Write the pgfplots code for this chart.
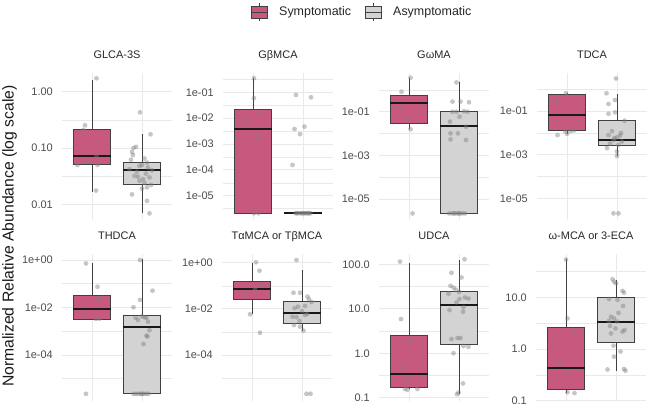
\documentclass[border=0pt]{standalone}
\usepackage{fontspec}
\setmainfont{Liberation Sans}
\usepackage{pgfplots}
\pgfplotsset{compat=1.18}
\definecolor{sym}{RGB}{199,89,126}
\definecolor{asym}{RGB}{211,211,211}
\definecolor{gridc}{RGB}{233,233,233}
\definecolor{boxline}{RGB}{64,64,64}
\definecolor{ticktxt}{RGB}{77,77,77}
\pgfplotsset{
  facet/.style={
    scale only axis, width=110bp, height=147bp,
    xmin=0.4, xmax=2.6,
    axis line style={draw=none},
    xtick={1,2}, xticklabels={,,},
    tick style={draw=none},
    xmajorgrids, ymajorgrids, yminorgrids,
    major grid style={draw=gridc, line width=0.9bp},
    minor grid style={draw=gridc, line width=0.5bp},
    yticklabel style={font=\fontsize{11}{13}\selectfont, text=ticktxt, inner sep=0pt, xshift=-9bp},
    title style={at={(0.5,1)}, anchor=base, yshift=8.5bp, font=\fontsize{11}{13}\selectfont, text=black!85},
  },
  pts/.style={only marks, mark=*, mark size=2.4bp, color=gray, mark options={line width=0pt, draw opacity=0, fill opacity=0.45}, forget plot},
}
% box: left, centre, right, fill, lower whisker, q1, median, q3, upper whisker
\newcommand{\bx}[9]{%
  \addplot[draw=boxline, line width=0.8bp, forget plot] coordinates {(#2,#5) (#2,#6)};
  \addplot[draw=boxline, line width=0.8bp, forget plot] coordinates {(#2,#8) (#2,#9)};
  \addplot[fill=#4, draw=boxline, line width=0.8bp, forget plot] coordinates {(#1,#6) (#3,#6) (#3,#8) (#1,#8)} --cycle;
  \addplot[draw=black!90, line width=2bp, forget plot] coordinates {(#1,#7) (#3,#7)};
}
\newcommand{\sbx}[5]{\bx{0.625}{1}{1.375}{sym}{#1}{#2}{#3}{#4}{#5}}
\newcommand{\abx}[5]{\bx{1.625}{2}{2.375}{asym}{#1}{#2}{#3}{#4}{#5}}
\begin{document}
\begin{tikzpicture}
\useasboundingbox (0bp,0bp) rectangle (650bp,411bp);
\node[rotate=90, inner sep=0pt, font=\fontsize{15.8}{18}\selectfont, text=black!90] at (9.5bp,175bp) {Normalized Relative Abundance (log scale)};

% ---- Legend (pixel coordinates, y measured from the top)
\begin{axis}[at={(0bp,379bp)}, anchor=south west, scale only axis, width=650bp, height=32bp,
  xmin=0, xmax=650, ymin=0, ymax=32, y dir=reverse, hide axis, clip=false]
\addplot[draw=boxline, line width=0.6bp] coordinates {(259,3.5) (259,21.5)};
\addplot[fill=sym, draw=boxline, line width=0.6bp] coordinates {(251,6.8) (267,6.8) (267,18.2) (251,18.2)} --cycle;
\addplot[draw=boxline, line width=0.8bp] coordinates {(251,12.5) (267,12.5)};
\addplot[draw=boxline, line width=0.6bp] coordinates {(373,3.5) (373,21.5)};
\addplot[fill=asym, draw=boxline, line width=0.6bp] coordinates {(365,6.8) (381,6.8) (381,18.2) (365,18.2)} --cycle;
\addplot[draw=boxline, line width=0.8bp] coordinates {(365,12.5) (381,12.5)};
\node[anchor=west, inner sep=0pt, font=\fontsize{12.5}{14}\selectfont, text=black!85] at (axis cs:279,12.5) {Symptomatic};
\node[anchor=west, inner sep=0pt, font=\fontsize{12.5}{14}\selectfont, text=black!85] at (axis cs:393,12.5) {Asymptomatic};
\end{axis}

% ---- Panel 1: GLCA-3S
\begin{axis}[facet, ymode=log, at={(62bp,191bp)}, anchor=south west, title={GLCA-3S},
  ymin=0.00526, ymax=2.148,
  ytick={0.01,0.1,1}, yticklabels={0.01,0.10,1.00}, minor ytick={0.0316,0.316}]
\sbx{0.0168}{0.052}{0.072}{0.217}{1.61}
\abx{0.0071}{0.0223}{0.040}{0.0564}{0.175}
\addplot[pts] coordinates {(1.09,1.73) (0.86,0.253) (0.83,0.209) (1.09,0.072) (0.91,0.057) (0.71,0.050) (1.11,0.050) (1.08,0.0175)};
\addplot[pts] coordinates {(1.96,0.43) (2.17,0.175) (1.83,0.10) (1.88,0.105) (1.80,0.085) (1.82,0.075) (1.78,0.062) (2.05,0.065) (2.10,0.055) (2.00,0.050) (1.95,0.048) (2.12,0.045) (1.75,0.042) (2.20,0.040) (1.90,0.038) (2.08,0.035) (1.85,0.032) (2.15,0.030) (2.02,0.028) (1.95,0.026) (2.18,0.022) (2.10,0.020) (1.80,0.015) (2.00,0.019) (2.10,0.0115) (2.15,0.0069) (1.92,0.031) (2.05,0.024)};
\end{axis}

% ---- Panel 2: GbMCA
\begin{axis}[facet, ymode=log, at={(223bp,191bp)}, anchor=south west, title={GβMCA},
  ymin=1.148e-6, ymax=0.558,
  ytick={1e-5,1e-4,1e-3,1e-2,1e-1}, yticklabels={1e-05,1e-04,1e-03,1e-02,1e-01},
  minor ytick={3.16e-6,3.16e-5,3.16e-4,3.16e-3,3.16e-2,0.316}]
\sbx{2.1e-6}{2.1e-6}{0.0037}{0.022}{0.35}
\abx{2.1e-6}{2.1e-6}{2.1e-6}{2.1e-6}{2.1e-6}
\addplot[pts] coordinates {(1.02,0.35) (1.02,0.059) (1.14,0.0168) (0.86,0.0079) (1.09,0.00175) (1.02,2.1e-6) (1.11,2.1e-6)};
\addplot[pts] coordinates {(1.86,0.079) (2.16,0.064) (2.03,0.0047) (1.83,0.0038) (1.94,0.0024) (1.79,0.000155) (1.85,2.1e-6) (1.90,2.1e-6) (1.95,2.1e-6) (2.00,2.1e-6) (2.05,2.1e-6) (2.10,2.1e-6) (2.15,2.1e-6) (1.88,2.1e-6) (2.02,2.1e-6) (2.12,2.1e-6) (1.97,2.1e-6) (2.08,2.1e-6)};
\end{axis}

% ---- Panel 3: GwMA
\begin{axis}[facet, ymode=log, at={(379bp,191bp)}, anchor=south west, title={GωMA},
  ymin=1.096e-6, ymax=5.93,
  ytick={1e-5,1e-3,1e-1}, yticklabels={1e-05,1e-03,1e-01}, minor ytick={1e-4,1e-2,1}]
\sbx{0.0156}{0.0294}{0.243}{0.58}{3.6}
\abx{2.2e-6}{2.2e-6}{0.0221}{0.1}{2.2}
\addplot[pts] coordinates {(1.03,3.6) (0.85,0.82) (0.82,0.17) (0.95,0.042) (1.03,0.0156) (1.07,2.2e-6)};
\addplot[pts] coordinates {(1.95,2.2) (1.87,0.29) (2.03,0.29) (2.20,0.27) (1.87,0.1) (1.95,0.1) (2.10,0.105) (2.17,0.1) (1.82,0.035) (2.01,0.059) (2.14,0.0206) (1.83,0.0102) (1.98,0.0102) (1.83,0.0054) (2.14,0.0051) (1.80,2.2e-6) (1.86,2.2e-6) (1.92,2.2e-6) (1.97,2.2e-6) (2.02,2.2e-6) (2.07,2.2e-6) (2.12,2.2e-6) (1.90,2.2e-6) (2.00,2.2e-6)};
\end{axis}

% ---- Panel 4: TDCA
\begin{axis}[facet, ymode=log, at={(537bp,191bp)}, anchor=south west, title={TDCA},
  ymin=1.023e-6, ymax=5.51,
  ytick={1e-5,1e-3,1e-1}, yticklabels={1e-05,1e-03,1e-01}, minor ytick={1e-4,1e-2,1}]
\sbx{0.0089}{0.0135}{0.066}{0.60}{0.65}
\abx{0.00087}{0.0026}{0.0047}{0.036}{0.60}
\addplot[pts] coordinates {(0.98,0.65) (0.81,0.27) (0.96,0.012) (1.07,0.012) (1.14,0.013) (0.81,0.0079) (1.0,0.009)};
\addplot[pts] coordinates {(1.98,3.1) (1.79,0.65) (1.96,0.32) (1.83,0.21) (1.96,0.087) (1.83,0.075) (2.15,0.036) (1.83,0.0079) (2.06,0.0075) (2.0,0.0062) (1.93,0.0048) (1.86,0.0032) (2.03,0.0028) (2.0,0.0014) (2.0,0.00087) (1.80,0.002) (2.1,0.004) (1.9,0.012) (2.08,0.0098) (1.95,0.0058) (1.93,2.06e-6) (2.03,2.06e-6)};
\end{axis}

% ---- Panel 5: THDCA
\begin{axis}[facet, ymode=log, at={(62bp,10bp)}, anchor=south west, title={THDCA},
  ymin=1.148e-6, ymax=1.79,
  ytick={1e-4,1e-2,1}, yticklabels={1e-04,1e-02,1e+00}, minor ytick={1e-5,1e-3,1e-1}]
\sbx{0.0033}{0.0033}{0.00865}{0.0336}{0.72}
\abx{2.3e-6}{2.3e-6}{0.00146}{0.00483}{1.07}
\addplot[pts] coordinates {(0.88,0.72) (1.11,0.075) (1.16,0.025) (1.10,0.021) (0.85,0.0045) (1.08,0.0033) (1.15,0.0034) (0.88,2.3e-6)};
\addplot[pts] coordinates {(1.96,1.0) (2.21,0.051) (1.96,0.021) (1.83,0.0102) (2.09,0.0036) (1.87,0.0037) (2.0,0.0042) (2.05,0.0039) (2.15,0.0011) (2.09,0.00065) (2.11,0.0006) (2.03,0.00029) (1.92,0.0030) (2.12,0.0025) (1.83,2.3e-6) (1.88,2.3e-6) (1.93,2.3e-6) (1.98,2.3e-6) (2.03,2.3e-6) (2.08,2.3e-6) (2.13,2.3e-6) (2.00,2.3e-6)};
\end{axis}

% ---- Panel 6: TaMCA or TbMCA
\begin{axis}[facet, ymode=log, at={(222bp,10bp)}, anchor=south west, title={TαMCA or TβMCA},
  ymin=1.023e-6, ymax=2.38,
  ytick={1e-4,1e-2,1}, yticklabels={1e-04,1e-02,1e+00}, minor ytick={1e-5,1e-3,1e-1}]
\sbx{0.0058}{0.026}{0.0705}{0.150}{0.94}
\abx{0.00114}{0.00238}{0.00685}{0.0205}{0.48}
\addplot[pts] coordinates {(1.08,1.04) (1.15,0.45) (1.18,0.108) (0.86,0.047) (1.06,0.07) (0.96,0.0058) (1.16,0.00093)};
\addplot[pts] coordinates {(1.89,1.3) (1.83,0.050) (1.96,0.050) (2.11,0.034) (2.14,0.026) (2.19,0.020) (1.85,0.0106) (1.92,0.0124) (2.06,0.0134) (1.81,0.0046) (1.89,0.0044) (2.06,0.0055) (1.84,0.0020) (1.96,0.0017) (2.03,0.00114) (2.00,0.008) (2.10,0.006) (1.95,0.003) (2.09,2.1e-6) (2.17,2.1e-6)};
\end{axis}

% ---- Panel 7: UDCA
\begin{axis}[facet, ymode=log, at={(379bp,10bp)}, anchor=south west, title={UDCA},
  ymin=0.0843, ymax=172,
  ytick={0.1,1,10,100}, yticklabels={0.1,1.0,10.0,100.0}, minor ytick={0.316,3.16,31.6}]
\sbx{0.16}{0.171}{0.342}{2.49}{110}
\abx{0.121}{1.62}{12.2}{24.4}{126}
\addplot[pts] coordinates {(0.82,116) (0.84,5.9) (1.03,1.92) (0.89,0.46) (0.97,0.26) (0.92,0.157) (0.97,0.152) (1.17,0.157)};
\addplot[pts] coordinates {(2.11,131) (1.85,65) (2.05,51) (1.83,33) (1.89,30) (1.94,27) (2.00,24) (1.79,22) (2.12,18) (2.19,17) (2.01,16.7) (1.95,14) (2.09,10.9) (1.81,9.4) (2.08,8.65) (1.85,2.1) (1.97,2.2) (2.03,2.2) (2.09,1.46) (2.19,1.4) (1.89,1.0) (2.08,0.21) (1.99,0.13) (1.96,0.12)};
\end{axis}

% ---- Panel 8: w-MCA or 3-ECA
\begin{axis}[facet, ymode=log, at={(536bp,10bp)}, anchor=south west, title={ω-MCA or 3-ECA},
  ymin=0.0984, ymax=69.0,
  ytick={0.1,1,10}, yticklabels={0.1,1.0,10.0}, minor ytick={0.316,3.16,31.6}]
\sbx{0.139}{0.166}{0.42}{2.63}{54.5}
\abx{0.38}{1.32}{3.28}{9.86}{21.7}
\addplot[pts] coordinates {(1.00,54) (1.03,3.9) (1.17,2.26) (0.87,0.51) (1.03,0.36) (1.03,0.145) (1.17,0.14)};
\addplot[pts] coordinates {(1.93,22.4) (1.96,20.1) (2.00,18.7) (2.13,13.3) (2.16,12.3) (1.86,9.3) (2.03,8.9) (2.14,6.8) (1.90,4.2) (1.96,3.9) (1.86,3.5) (2.02,3.4) (1.99,2.5) (2.17,2.33) (2.13,2.16) (1.90,2.0) (1.95,1.16) (2.09,0.89) (1.96,0.71) (1.83,0.40) (2.16,0.41) (2.19,0.38) (2.05,5.0) (1.88,2.8)};
\end{axis}
\end{tikzpicture}
\end{document}
